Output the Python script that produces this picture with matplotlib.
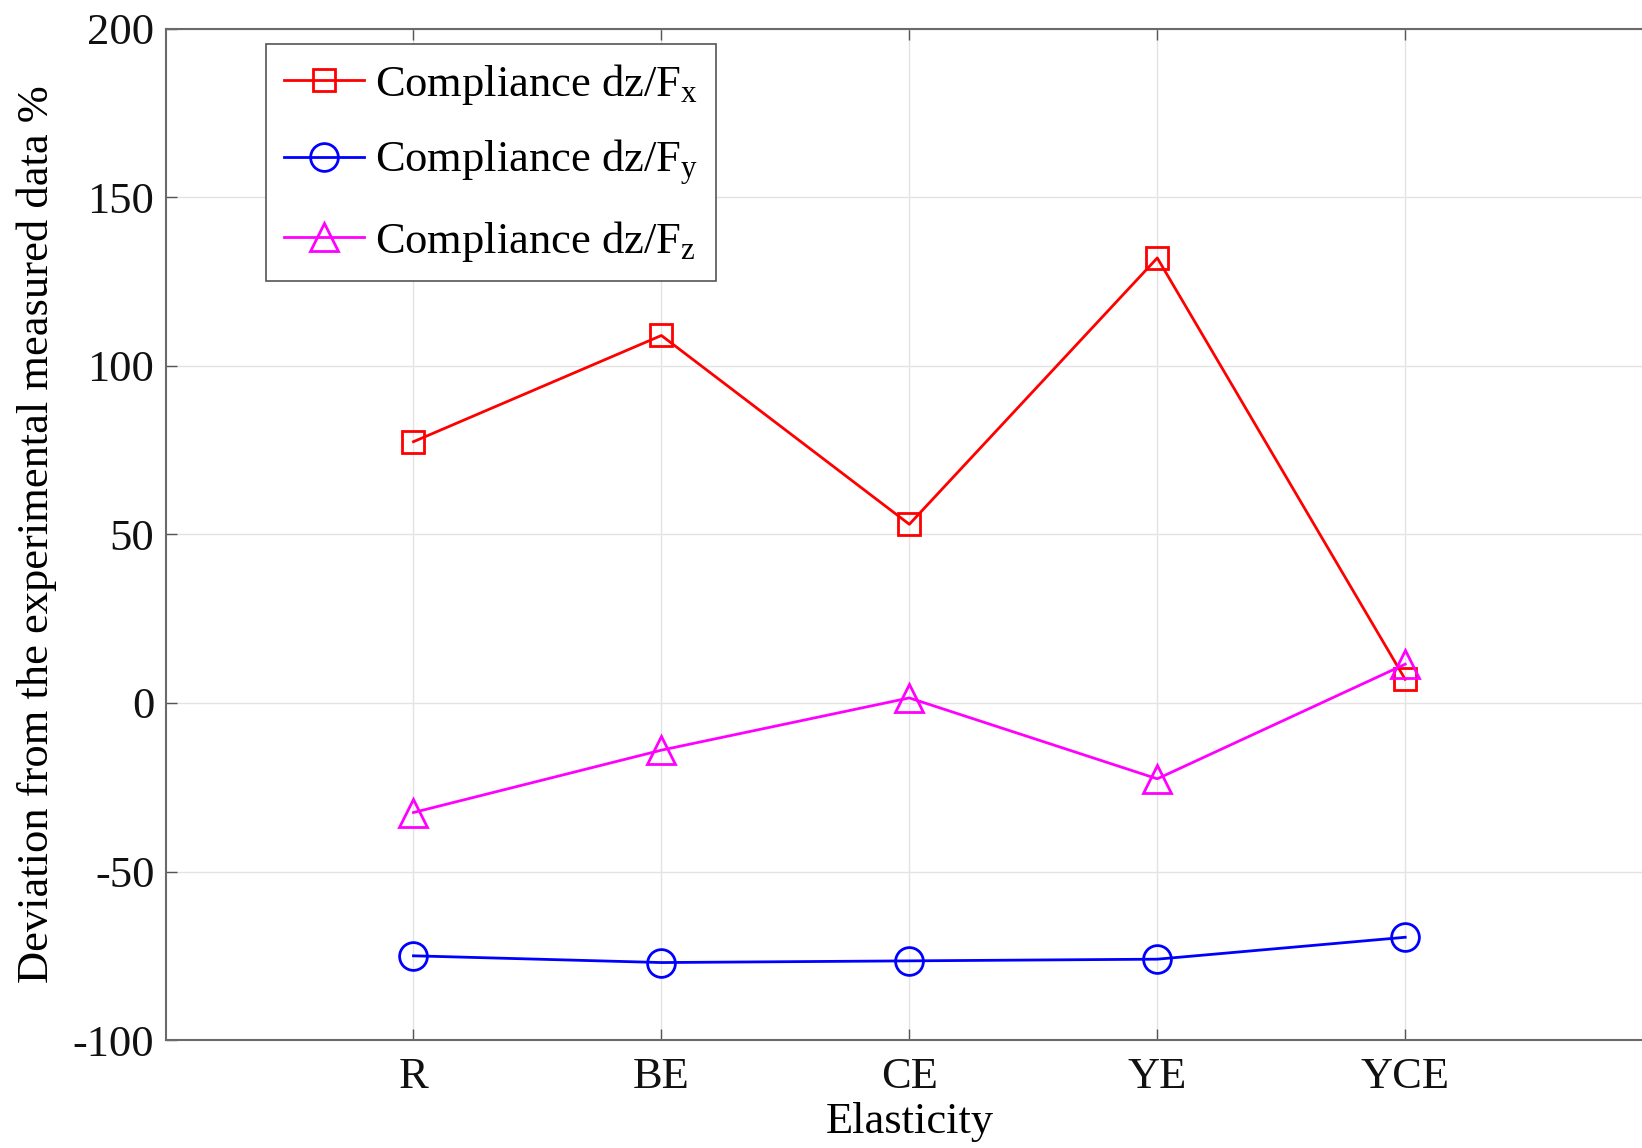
import matplotlib
matplotlib.use("Agg")
import matplotlib.pyplot as plt

categories = ["R", "BE", "CE", "YE", "YCE"]
dz_fx = [77.5, 109, 53, 132, 7]
dz_fy = [-75, -77, -76.5, -76, -69.5]
dz_fz = [-32.5, -14, 1.5, -22.5, 11.5]

plt.rcParams["font.family"] = ["Liberation Serif", "DejaVu Serif"]
plt.rcParams["mathtext.fontset"] = "custom"
plt.rcParams["mathtext.rm"] = "Liberation Serif"
plt.rcParams["mathtext.it"] = "Liberation Serif"
plt.rcParams["axes.unicode_minus"] = False

fig = plt.figure(figsize=(16.42, 11.48), dpi=100)
ax = fig.add_axes([0.1008, 0.094, 0.906, 0.881])

x = list(range(1, len(categories) + 1))
ax.plot(x, dz_fx, color="#ff0000", lw=2, marker="s", ms=16, mfc="none", mew=2,
        label="Compliance dz/F$_{\\mathrm{x}}$")
ax.plot(x, dz_fy, color="#0000ff", lw=2, marker="o", ms=20, mfc="none", mew=2,
        label="Compliance dz/F$_{\\mathrm{y}}$")
ax.plot(x, dz_fz, color="#ff00ff", lw=2, marker="^", ms=20, mfc="none", mew=2,
        label="Compliance dz/F$_{\\mathrm{z}}$")

ax.set_xlim(0, 6)
ax.set_ylim(-100, 200)
ax.set_xticks(x)
ax.set_xticklabels(categories)
ax.set_yticks([-100, -50, 0, 50, 100, 150, 200])
ax.tick_params(direction="in", length=8, width=1, labelsize=32, top=True, right=True,
               colors="#555555", labelcolor="#111111", pad=8)
ax.tick_params(axis="x", pad=12)
ax.grid(True, color="#e3e3e3", lw=1)
for s in ax.spines.values():
    s.set_color("#6a6a6a")
    s.set_linewidth(1.5)

ax.set_xlabel("Elasticity", fontsize=32, labelpad=4)
ax.set_ylabel("Deviation from the experimental measured data %", fontsize=32, labelpad=11)

leg = ax.legend(loc="upper left", bbox_to_anchor=(0.0675, 0.985), borderaxespad=0,
                fontsize=32, handlelength=1.8, handletextpad=0.25, borderpad=0.4,
                labelspacing=0.7, fancybox=False, framealpha=1)
leg.get_frame().set_edgecolor("#555555")
leg.get_frame().set_linewidth(1.2)

fig.savefig("out.png", dpi=100)
